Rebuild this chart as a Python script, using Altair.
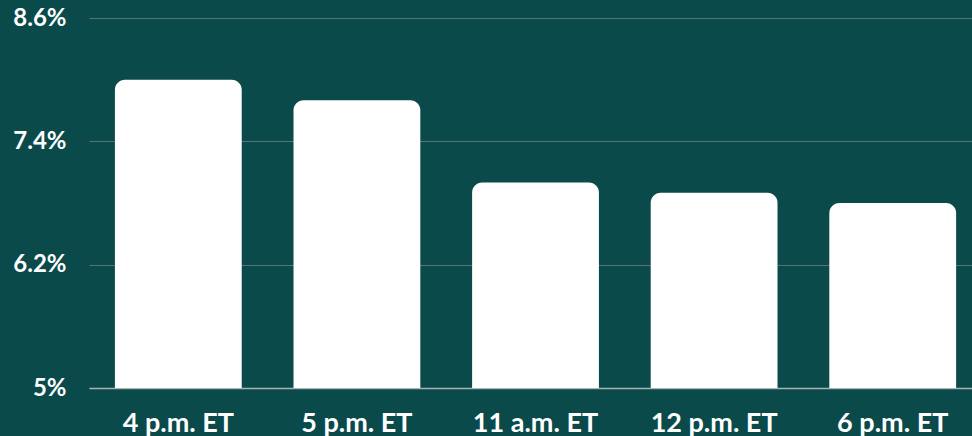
import altair as alt
import pandas as pd

categories = ["4 p.m. ET", "5 p.m. ET", "11 a.m. ET", "12 p.m. ET", "6 p.m. ET"]
values = [8.0, 7.8, 7.0, 6.9, 6.8]
y_ticks = [5, 6.2, 7.4, 8.6]
baseline = 5

df = pd.DataFrame({"slot": categories, "rate": values})

BG = "#0a4a4a"

chart = alt.Chart(df).mark_bar(
    color="white", cornerRadiusTopLeft=10, cornerRadiusTopRight=10
).encode(
    x=alt.X("slot:N", sort=categories,
            scale=alt.Scale(paddingInner=0.29, paddingOuter=0.117, align=0.62),
            axis=alt.Axis(title=None, labelAngle=0, labelFont="Lato", labelFontSize=27,
                          labelFontWeight="bold", labelColor="white", labelPadding=22,
                          ticks=False, domain=True, domainColor="#a9b3b3", domainWidth=1.5,
                          grid=False)),
    y=alt.Y("rate:Q",
            scale=alt.Scale(domain=[5, 8.6], nice=False, zero=False),
            axis=alt.Axis(title=None, values=y_ticks, labelExpr="datum.value + '%'",
                          labelFont="Lato", labelFontSize=24, labelFontWeight="bold",
                          labelColor="white", labelPadding=23, ticks=False, domain=False,
                          grid=True, gridColor="#5d7373", gridWidth=1)),
    y2=alt.Y2(datum=baseline),
).properties(
    width=883, height=370, background=BG,
    autosize=alt.AutoSizeParams(type="none"),
    padding={"left": 89, "top": 18, "right": 0, "bottom": 48},
).configure_view(stroke=None, fill=BG)

chart.save("out.html", embed_options={"renderer": "svg", "actions": False})
